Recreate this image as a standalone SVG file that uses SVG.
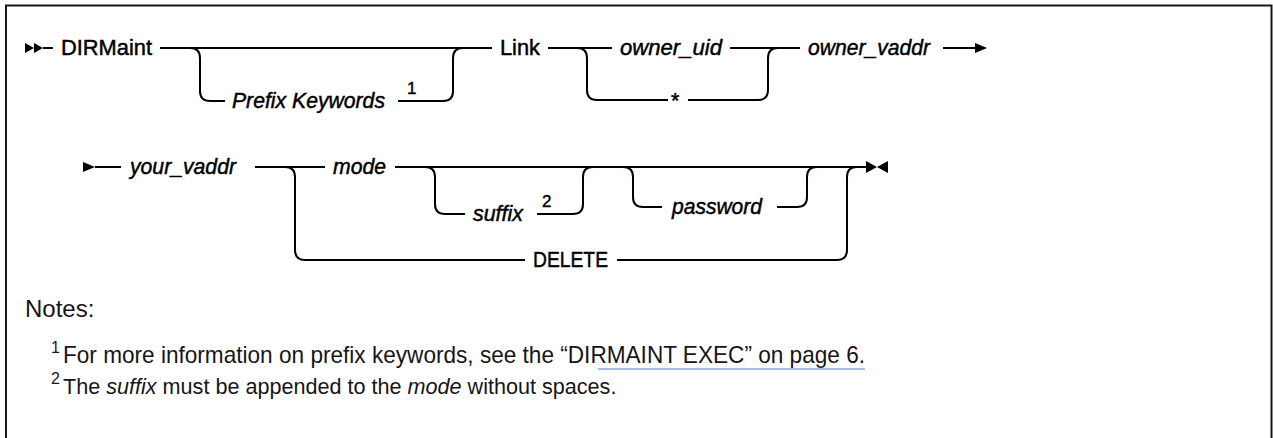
<svg xmlns="http://www.w3.org/2000/svg" width="1273" height="438" viewBox="0 0 1273 438">
<style>
.t{font-family:"Liberation Sans",Arial,sans-serif;font-size:21.5px;fill:#000;stroke:#000;stroke-width:0.45}
.i{font-style:italic}
.sup{font-family:"Liberation Sans",Arial,sans-serif;font-size:17px;fill:#000;stroke:#000;stroke-width:0.4}
.ln{fill:none;stroke:#000;stroke-width:2}
.n{font-family:"Liberation Sans","Noto Sans",sans-serif;font-size:24px;fill:#161616}
.n2{font-family:"Liberation Sans","Noto Sans",sans-serif;font-size:21.6px;fill:#161616}
.ns{font-family:"Liberation Sans","Noto Sans",sans-serif;font-size:16px;fill:#161616}
.ah{fill:#000}
</style>
<rect x="0" y="0" width="1273" height="438" fill="#fff"/>
<path d="M6,438 V5.5 H1271.5 V438" fill="none" stroke="#161616" stroke-width="2"/>
<g id="connectors">
<polygon class="ah" points="25,43 34,48 25,53"/>
<polygon class="ah" points="34,43 43,48 34,53"/>
<path class="ln" d="M43,48 H53"/>
<path class="ln" d="M160,48 H492"/>
<path class="ln" d="M190,48 Q200,48 200,58 V91 Q200,101 210,101 H225"/>
<path class="ln" d="M398,101 H443 Q453,101 453,91 V58 Q453,48 463,48"/>
<path class="ln" d="M548,48 H612"/>
<path class="ln" d="M577,48 Q587,48 587,58 V90 Q587,100 597,100 H668"/>
<path class="ln" d="M688,100 H758 Q768,100 768,90 V58 Q768,48 778,48"/>
<path class="ln" d="M730,48 H800"/>
<path class="ln" d="M943,48 H976"/>
<polygon class="ah" points="975,43 987,48 975,53"/>
<polygon class="ah" points="83,162 95,167 83,172"/>
<path class="ln" d="M95,167 H121"/>
<path class="ln" d="M255,167 H325"/>
<path class="ln" d="M285,167 Q295,167 295,177 V250 Q295,260 305,260 H525"/>
<path class="ln" d="M395,167 H867"/>
<path class="ln" d="M425,167 Q435,167 435,177 V204 Q435,214 445,214 H465"/>
<path class="ln" d="M537,214 H573 Q583,214 583,204 V177 Q583,167 593,167"/>
<path class="ln" d="M623,167 Q633,167 633,177 V197 Q633,207 643,207 H662"/>
<path class="ln" d="M777,207 H797 Q807,207 807,197 V177 Q807,167 817,167"/>
<path class="ln" d="M617,260 H837 Q847,260 847,250 V177 Q847,167 857,167"/>
<polygon class="ah" points="866,161 877,167 866,173"/>
<polygon class="ah" points="888,161 877,167 888,173"/>
</g>
<g id="n-dirmaint"><text class="t" x="61" y="55" textLength="91" lengthAdjust="spacingAndGlyphs">DIRMaint</text></g>
<g id="n-prefix"><text class="t i" x="232" y="108" textLength="153" lengthAdjust="spacingAndGlyphs">Prefix Keywords</text><text class="sup" x="407" y="94">1</text></g>
<g id="n-link"><text class="t" x="500" y="55" textLength="40" lengthAdjust="spacingAndGlyphs">Link</text></g>
<g id="n-owner-uid"><text class="t i" x="620" y="55" textLength="102" lengthAdjust="spacingAndGlyphs">owner_uid</text></g>
<g id="n-star"><text class="t" x="671" y="108">*</text></g>
<g id="n-owner-vaddr"><text class="t i" x="808" y="55" textLength="122" lengthAdjust="spacingAndGlyphs">owner_vaddr</text></g>
<g id="n-your-vaddr"><text class="t i" x="130" y="174" textLength="106" lengthAdjust="spacingAndGlyphs">your_vaddr</text></g>
<g id="n-mode"><text class="t i" x="333" y="174" textLength="53" lengthAdjust="spacingAndGlyphs">mode</text></g>
<g id="n-suffix"><text class="t i" x="473" y="221" textLength="50" lengthAdjust="spacingAndGlyphs">suffix</text><text class="sup" x="542" y="207">2</text></g>
<g id="n-password"><text class="t i" x="672" y="214" textLength="90" lengthAdjust="spacingAndGlyphs">password</text></g>
<g id="n-delete"><text class="t" x="533" y="267" textLength="75" lengthAdjust="spacingAndGlyphs">DELETE</text></g>
<g id="notes">
<text class="n" x="25" y="317">Notes:</text>
<text class="ns" x="51" y="353">1</text>
<text class="n" x="63" y="363" textLength="802" lengthAdjust="spacingAndGlyphs">For more information on prefix keywords, see the “DIRMAINT EXEC” on page 6.</text>
<path d="M598,369 H865" stroke="#4a7bd0" stroke-width="1.2" fill="none"/>
<text class="ns" x="51" y="384">2</text>
<text class="n2" x="63" y="394">The <tspan font-style="italic">suffix</tspan> must be appended to the <tspan font-style="italic">mode</tspan> without spaces.</text>
</g>
</svg>
